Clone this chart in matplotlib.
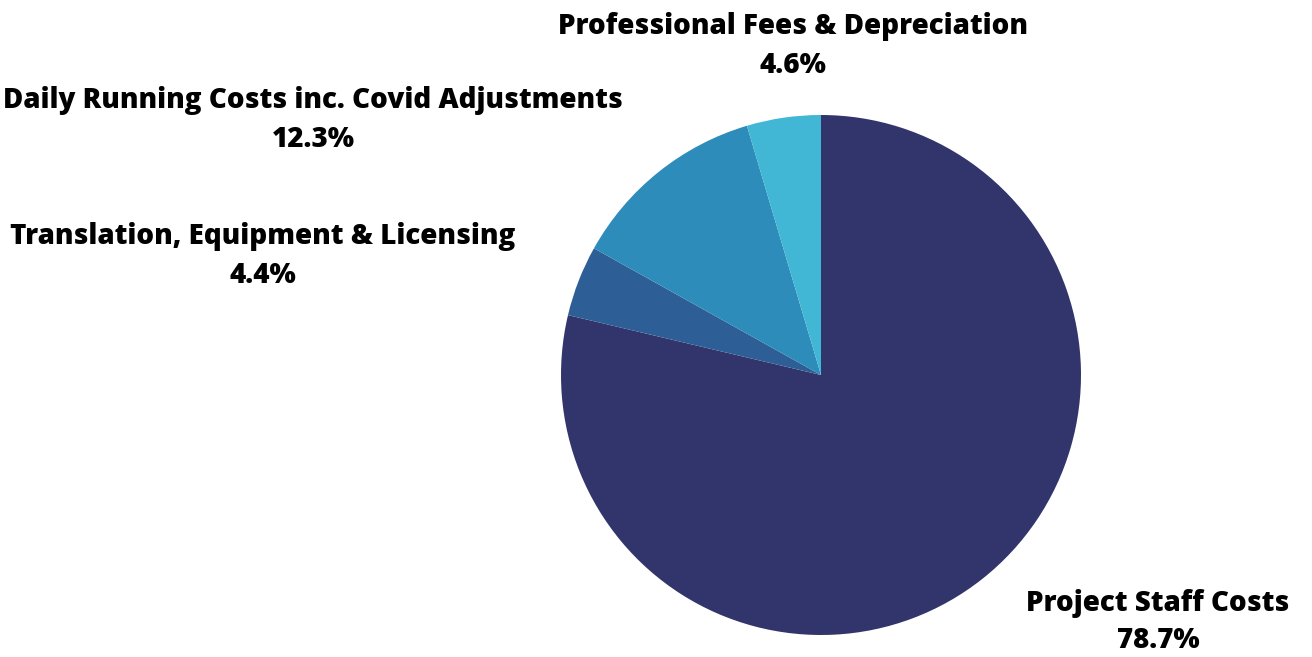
import matplotlib.pyplot as plt

categories = [
    "Project Staff Costs",
    "Translation, Equipment & Licensing",
    "Daily Running Costs inc. Covid Adjustments",
    "Professional Fees & Depreciation",
]
shares = [78.7, 4.4, 12.3, 4.6]
colors = ["#32356b", "#2d5e96", "#2d8cb9", "#41b7d5"]

# label anchor in pixels: centre x, baseline y of the name line
label_pos = [(1158, 611), (263, 244), (313, 108), (793, 34)]
line_gap = [37, 39, 39, 39]

W, H = 1312, 657
fig = plt.figure(figsize=(W / 100, H / 100), dpi=100)

cx, cy, r = 821, 375, 260
ax = fig.add_axes([(cx - r) / W, (H - cy - r) / H, 2 * r / W, 2 * r / H])
ax.pie(shares, colors=colors, startangle=90, counterclock=False,
       wedgeprops=dict(linewidth=0))
ax.set_xlim(-1, 1)
ax.set_ylim(-1, 1)
ax.set_aspect("auto")
ax.axis("off")

for name, val, (x, y), gap in zip(categories, shares, label_pos, line_gap):
    fig.text(x / W, 1 - y / H, name, ha="center", va="baseline",
             fontsize=20, fontweight=800, family="Open Sans")
    fig.text(x / W, 1 - (y + gap) / H, f"{val}%", ha="center", va="baseline",
             fontsize=20, fontweight=800, family="Open Sans")

fig.savefig("out.png", dpi=100)
